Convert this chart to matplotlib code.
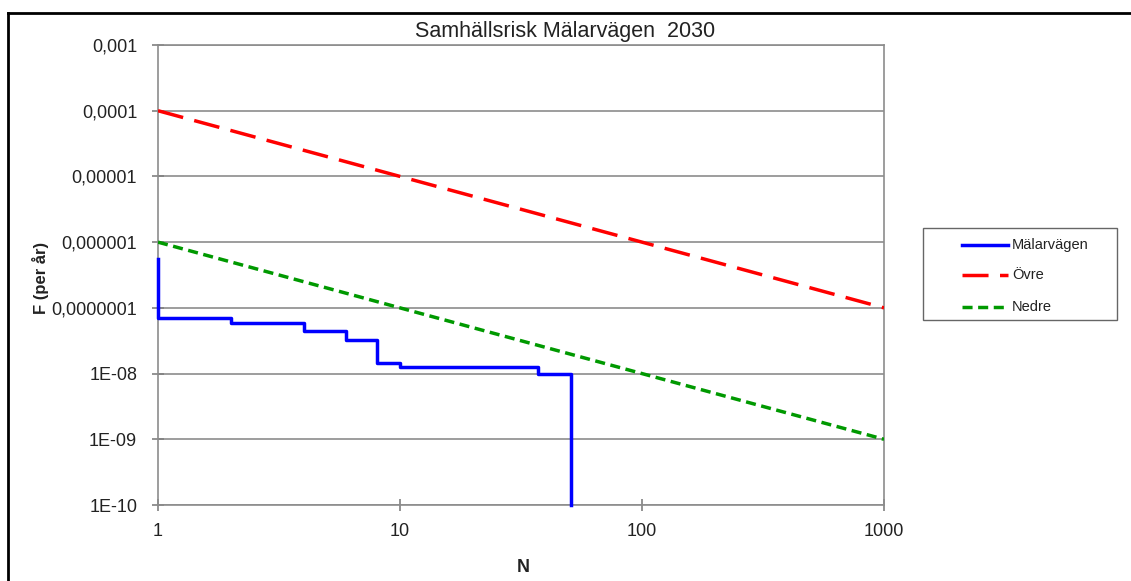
import numpy as np
import matplotlib
matplotlib.use("Agg")
import matplotlib.pyplot as plt
from matplotlib.lines import Line2D
from matplotlib.patches import Rectangle

plt.rcParams['font.family'] = ['Liberation Sans', 'DejaVu Sans']

# Mälarvägen FN-curve (step)
n_steps = [1, 1, 2, 4, 6, 8, 10, 37, 51, 51]
f_steps = [5.5e-7, 7.0e-8, 5.9e-8, 4.5e-8, 3.25e-8, 1.46e-8, 1.26e-8, 9.7e-9, 9.7e-9, 1e-10]

# criteria lines
n_crit = [1, 1000]
f_ovre = [1e-4, 1e-7]
f_nedre = [1e-6, 1e-9]

y_ticks = [1e-10, 1e-9, 1e-8, 1e-7, 1e-6, 1e-5, 1e-4, 1e-3]
y_labels = ["1E-10", "1E-09", "1E-08", "0,0000001", "0,000001", "0,00001", "0,0001", "0,001"]
x_ticks = [1, 10, 100, 1000]
x_labels = ["1", "10", "100", "1000"]
series_names = ['Mälarvägen', 'Övre', 'Nedre']

W, H = 1131, 581
fig = plt.figure(figsize=(W / 100, H / 100), dpi=100)
ax = fig.add_axes([158/W, 1 - 505/H, (884-158)/W, (505-45)/H])

styles = [dict(color='#0000ff', lw=2.5),
          dict(color='#ff0000', lw=2.5, dashes=(7.5, 3.3)),
          dict(color='#009900', lw=2.5, dashes=(2.9, 1.6))]

ax.plot(n_steps, f_steps, drawstyle='steps-post', clip_on=False, zorder=5, **styles[0])
ax.plot(n_crit, f_ovre, zorder=4, **styles[1])
ax.plot(n_crit, f_nedre, zorder=4, **styles[2])

ax.set_xscale('log')
ax.set_yscale('log')
ax.set_xlim(1, 1000)
ax.set_ylim(1e-10, 1e-3)
ax.set_xticks(x_ticks)
ax.set_xticklabels(x_labels)
ax.set_yticks(y_ticks)
ax.set_yticklabels(y_labels)
ax.minorticks_off()
ax.tick_params(axis='both', labelsize=13, color='#808080', length=8, width=1.2,
               direction='inout', labelcolor='#222222')
ax.tick_params(axis='y', pad=11)
ax.tick_params(axis='x', pad=9)
ax.grid(True, axis='y', color='#8c8c8c', lw=1.2)
for s in ax.spines.values():
    s.set_color('#8c8c8c')
    s.set_linewidth(1.2)

fig.text(523/W, 1 - 567/H, 'N', ha='center', va='center', fontsize=13, fontweight='bold', color='#222222')
fig.text(41/W, 1 - 278/H, 'F (per år)', ha='center', va='center', rotation=90,
         fontsize=12, fontweight='bold', color='#222222')
fig.text(565/W, 1 - 31/H, 'Samhällsrisk Mälarvägen  2030', ha='center', va='center',
         fontsize=15.5, color='#222222')

# legend box, drawn by hand to match the placement
fig.add_artist(Rectangle((923/W, 1 - 320/H), (1117-923)/W, (320-228)/H, transform=fig.transFigure,
                         facecolor='white', edgecolor='#666666', lw=1.0))
row_y = [245, 275, 307]
for name, st, ry in zip(series_names, styles, row_y):
    fig.add_artist(Line2D([962/W, 1008/W], [1 - ry/H, 1 - ry/H], transform=fig.transFigure, **st))
    fig.text(1012/W, 1 - ry/H, name, ha='left', va='center', fontsize=10.5, color='#222222')

# outer border (left and top edges visible)
fig.add_artist(Line2D([8/W, 8/W], [0, 1 - 13/H], color='black', lw=2, transform=fig.transFigure))
fig.add_artist(Line2D([8/W, 1], [1 - 13/H, 1 - 13/H], color='black', lw=2, transform=fig.transFigure))

fig.savefig('out.png', dpi=100)
